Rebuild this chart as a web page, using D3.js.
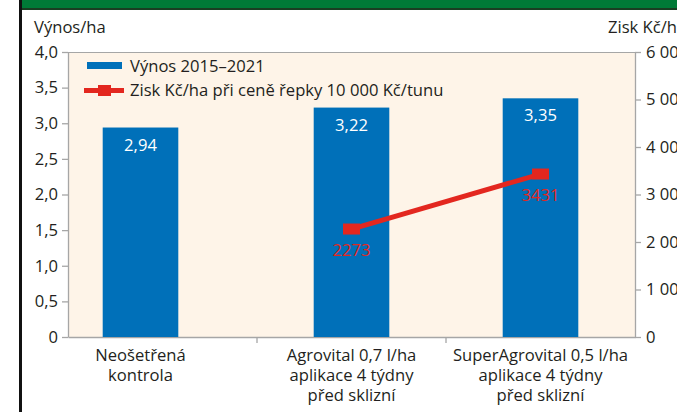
<!DOCTYPE html>
<html>
<head>
<meta charset="utf-8">
<script src="https://cdn.jsdelivr.net/npm/d3@7"></script>
<style>
  body { margin: 0; background: #fff; overflow: hidden; }
  text { font-family: 'Open Sans', sans-serif; }
</style>
</head>
<body>
<svg id="chart"></svg>
<script>
// data
const categories = ['Neošetřená|kontrola', 'Agrovital 0,7 l/ha|aplikace 4 týdny|před sklizní', 'SuperAgrovital 0,5 l/ha|aplikace 4 týdny|před sklizní']
const yieldValues = [2.94, 3.22, 3.35]
const profitCategories = [categories[1], categories[2]]
const profitValues = [2273, 3431]
const leftTicks = [0, 0.5, 1, 1.5, 2, 2.5, 3, 3.5, 4]
const rightTicks = [0, 1000, 2000, 3000, 4000, 5000, 6000]
const seriesNames = ['Výnos 2015–2021', 'Zisk Kč/ha při ceně řepky 10 000 Kč/tunu']

const W = 677, H = 412
const plot = { left: 68, right: 635, top: 52, bottom: 337 }
const blue = '#0070b9', red = '#e3271f', beige = '#fef4e8', grey = '#a6a6a6', ink = '#231f20'
const fs = '16.6px'
const firstShift = -22 // first category sits left of its band in the original

const cz = d3.formatLocale({ decimal: ',', thousands: '\u00a0', grouping: [3], currency: ['', ''] })
const fmtLeft = d => (d === 0 ? '0' : cz.format('.1f')(d))
const fmtRight = cz.format(',d')
const fmtBar = cz.format('.2f')

const svg = d3.select('#chart').attr('width', W).attr('height', H)

// frame: green header strip and black left rule
svg.append('rect').attr('x', 21).attr('y', 0).attr('width', W).attr('height', 9).attr('fill', '#007a37')
svg.append('rect').attr('x', 21).attr('y', 8).attr('width', W).attr('height', 2).attr('fill', '#1a3d22')
svg.append('rect').attr('x', 19).attr('y', 0).attr('width', 3).attr('height', H).attr('fill', '#111')

const x = d3.scaleBand().domain(categories).range([plot.left, plot.right]).padding(0)
const cx = d => x(d) + x.bandwidth() / 2 + (d === categories[0] ? firstShift : 0)
const yL = d3.scaleLinear().domain([0, 4]).range([plot.bottom, plot.top])
const yR = d3.scaleLinear().domain([0, 6000]).range([plot.bottom, plot.top])
const barW = x.bandwidth() * 0.4

svg.append('rect')
  .attr('x', plot.left).attr('y', plot.top)
  .attr('width', plot.right - plot.left).attr('height', plot.bottom - plot.top)
  .attr('fill', beige)
svg.append('line')
  .attr('x1', plot.left).attr('x2', plot.right)
  .attr('y1', plot.top + 0.5).attr('y2', plot.top + 0.5)
  .attr('stroke', grey)

// axes
const styleAxis = g => {
  g.select('.domain').attr('stroke', grey).attr('stroke-width', 1.3)
  g.selectAll('.tick line').attr('stroke', grey).attr('stroke-width', 1.3)
  g.selectAll('.tick text').attr('fill', ink).style('font-size', fs).style('font-family', "'Open Sans', sans-serif")
}
svg.append('g')
  .attr('transform', `translate(${plot.left},0)`)
  .call(d3.axisLeft(yL).tickValues(leftTicks).tickFormat(fmtLeft).tickSize(6).tickSizeOuter(0).tickPadding(4))
  .call(styleAxis)
svg.append('g')
  .attr('transform', `translate(${plot.right},0)`)
  .call(d3.axisRight(yR).tickValues(rightTicks).tickFormat(fmtRight).tickSize(6).tickSizeOuter(0).tickPadding(5))
  .call(styleAxis)
svg.append('g')
  .attr('transform', `translate(0,${plot.bottom})`)
  .call(d3.axisBottom(x).tickSize(0).tickFormat(''))
  .call(styleAxis)
// category boundary ticks
svg.append('g').selectAll('line')
  .data(categories.slice(1))
  .join('line')
  .attr('x1', d => x(d)).attr('x2', d => x(d))
  .attr('y1', plot.bottom).attr('y2', plot.bottom + 6)
  .attr('stroke', grey).attr('stroke-width', 1.3)

// category labels
svg.append('g').selectAll('text')
  .data(categories)
  .join('text')
  .attr('text-anchor', 'middle')
  .attr('fill', ink)
  .style('font-size', fs)
  .each(function (d) {
    d3.select(this).selectAll('tspan')
      .data(d.split('|'))
      .join('tspan')
      .attr('x', cx(d))
      .attr('y', (l, i) => plot.bottom + 24 + i * 20)
      .text(l => l)
  })

// axis titles
svg.append('text').attr('x', 34).attr('y', 33).attr('fill', ink).style('font-size', fs).text('Výnos/ha')
svg.append('text').attr('x', 608).attr('y', 33).attr('fill', ink).style('font-size', fs).text('Zisk Kč/ha')

// bars
const bars = categories.map((c, i) => ({ c, v: yieldValues[i] }))
svg.append('g').selectAll('rect')
  .data(bars)
  .join('rect')
  .attr('x', d => cx(d.c) - barW / 2)
  .attr('y', d => yL(d.v))
  .attr('width', barW)
  .attr('height', d => yL(0) - yL(d.v))
  .attr('fill', blue)
svg.append('g').selectAll('text')
  .data(bars)
  .join('text')
  .attr('x', d => cx(d.c))
  .attr('y', d => yL(d.v) + 23)
  .attr('text-anchor', 'middle')
  .attr('fill', '#fff')
  .style('font-size', fs)
  .text(d => fmtBar(d.v))

// profit line
const pts = profitCategories.map((c, i) => ({ c, v: profitValues[i] }))
svg.append('path')
  .datum(pts)
  .attr('d', d3.line().x(d => cx(d.c)).y(d => yR(d.v)))
  .attr('fill', 'none').attr('stroke', red).attr('stroke-width', 5)
svg.append('g').selectAll('rect')
  .data(pts)
  .join('rect')
  .attr('x', d => cx(d.c) - 8.5).attr('y', d => yR(d.v) - 5.5)
  .attr('width', 17).attr('height', 11)
  .attr('fill', red)
svg.append('g').selectAll('text')
  .data(pts)
  .join('text')
  .attr('x', d => cx(d.c))
  .attr('y', d => yR(d.v) + 27)
  .attr('text-anchor', 'middle')
  .attr('fill', red)
  .style('font-size', fs)
  .text(d => d.v)

// legend
const lg = svg.append('g').attr('transform', 'translate(87,0)')
lg.append('rect').attr('x', 0).attr('y', 62).attr('width', 35).attr('height', 7).attr('fill', blue)
lg.append('text').attr('x', 43).attr('y', 72).attr('fill', ink).style('font-size', fs).text(seriesNames[0])
lg.append('line').attr('x1', -3).attr('x2', 37).attr('y1', 90.5).attr('y2', 90.5).attr('stroke', red).attr('stroke-width', 5)
lg.append('rect').attr('x', 11).attr('y', 85).attr('width', 13).attr('height', 11).attr('fill', red)
lg.append('text').attr('x', 43).attr('y', 96).attr('fill', ink).style('font-size', fs).text(seriesNames[1])
</script>
</body>
</html>
